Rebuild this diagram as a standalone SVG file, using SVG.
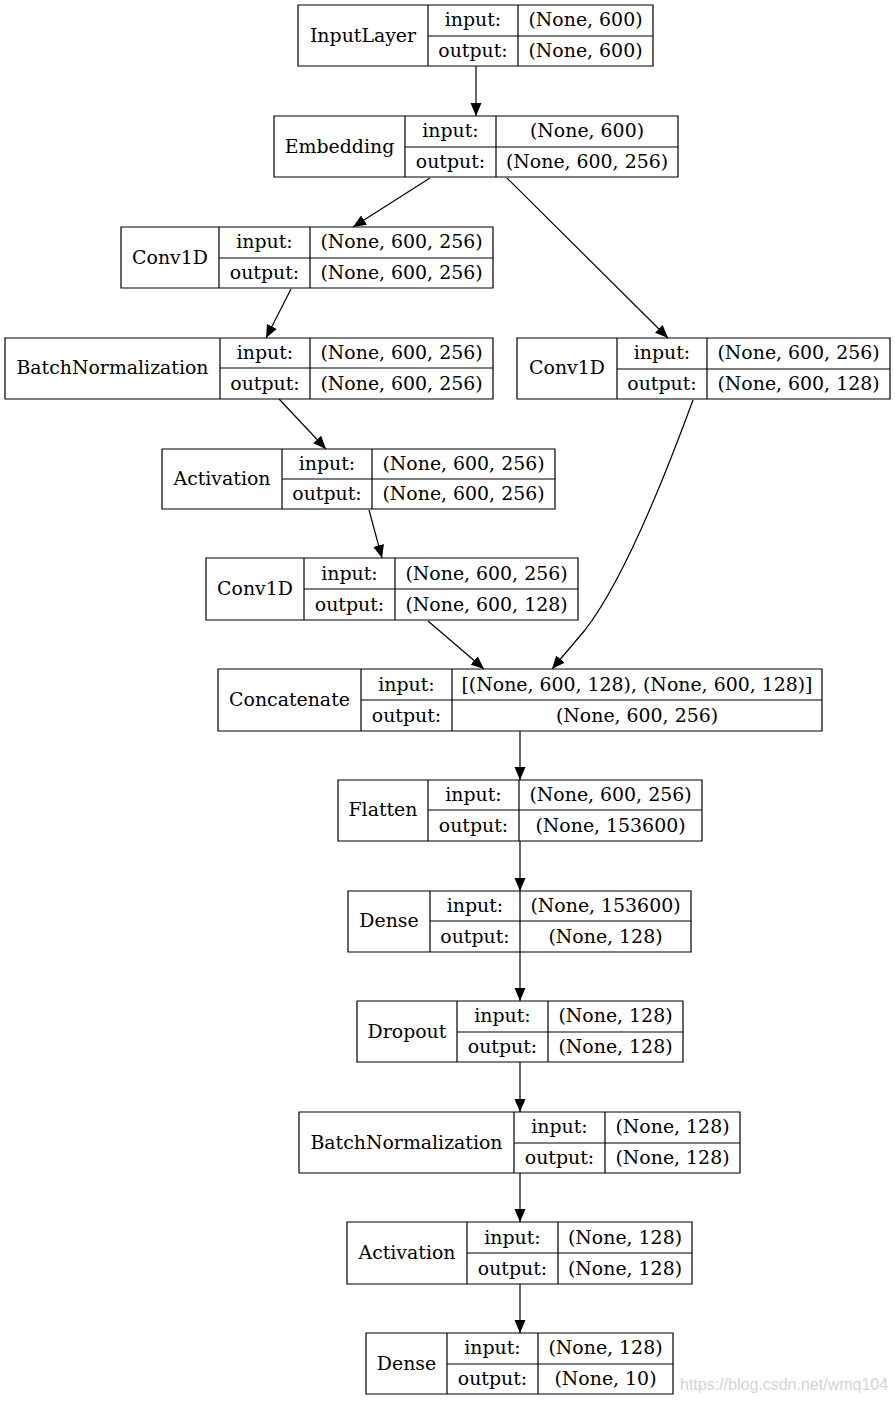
<svg xmlns="http://www.w3.org/2000/svg" width="895" height="1401" viewBox="0 0 895 1401">
<style>
.b{fill:none;stroke:#000;stroke-width:1.2}
.t{font-family:"DejaVu Serif","Liberation Serif",serif;font-size:18.9px;fill:#000;text-anchor:middle}
.e{fill:none;stroke:#000;stroke-width:1.2}
.wm{font-family:"Liberation Sans",Arial,sans-serif;font-size:16px;fill:#d4d4d4}
</style>
<defs>
<marker id="ah" markerUnits="userSpaceOnUse" markerWidth="14" markerHeight="12" viewBox="0 0 14 12" refX="13" refY="6" orient="auto">
<path d="M0,0.5 L13,6 L0,11.5 Z" fill="#000"/>
</marker>
</defs>
<rect width="895" height="1401" fill="#fff"/>
<g id="connectors">
<path class="e" d="M476,66 L476,116" marker-end="url(#ah)"/>
<path class="e" d="M430,178 L353,227" marker-end="url(#ah)"/>
<path class="e" d="M507,178 L668,338" marker-end="url(#ah)"/>
<path class="e" d="M291,289 L266,338" marker-end="url(#ah)"/>
<path class="e" d="M279,399 L326,449" marker-end="url(#ah)"/>
<path class="e" d="M369,510 L382,558" marker-end="url(#ah)"/>
<path class="e" d="M428,621 L484,669" marker-end="url(#ah)"/>
<path class="e" d="M693,400 C660,490 620,585 585,630 L552,669" marker-end="url(#ah)"/>
<path class="e" d="M520,731 L520,780" marker-end="url(#ah)"/>
<path class="e" d="M520,841 L520,891" marker-end="url(#ah)"/>
<path class="e" d="M520,952 L520,1001" marker-end="url(#ah)"/>
<path class="e" d="M520,1062 L520,1112" marker-end="url(#ah)"/>
<path class="e" d="M520,1173 L520,1222" marker-end="url(#ah)"/>
<path class="e" d="M520,1284 L520,1333" marker-end="url(#ah)"/>
</g>
<g id="n1">
<path class="b" d="M298,5 H653 V66 H298 Z M428,5 V66 M518,5 V66 M428,36 H653"/>
<text class="t" x="363" y="42">InputLayer</text>
<text class="t" x="473" y="26">input:</text>
<text class="t" x="473" y="57">output:</text>
<text class="t" x="585.5" y="26">(None, 600)</text>
<text class="t" x="585.5" y="57">(None, 600)</text>
</g>
<g id="n2">
<path class="b" d="M274,116 H678 V177 H274 Z M405,116 V177 M496,116 V177 M405,147 H678"/>
<text class="t" x="339.5" y="153">Embedding</text>
<text class="t" x="450.5" y="137">input:</text>
<text class="t" x="450.5" y="168">output:</text>
<text class="t" x="587" y="137">(None, 600)</text>
<text class="t" x="587" y="168">(None, 600, 256)</text>
</g>
<g id="n3">
<path class="b" d="M121,227 H493 V288 H121 Z M219,227 V288 M310,227 V288 M219,258 H493"/>
<text class="t" x="170" y="264">Conv1D</text>
<text class="t" x="264.5" y="248">input:</text>
<text class="t" x="264.5" y="279">output:</text>
<text class="t" x="401.5" y="248">(None, 600, 256)</text>
<text class="t" x="401.5" y="279">(None, 600, 256)</text>
</g>
<g id="n4">
<path class="b" d="M5,338 H493 V399 H5 Z M220,338 V399 M310,338 V399 M220,368 H493"/>
<text class="t" x="112.5" y="374">BatchNormalization</text>
<text class="t" x="265" y="359">input:</text>
<text class="t" x="265" y="390">output:</text>
<text class="t" x="401.5" y="359">(None, 600, 256)</text>
<text class="t" x="401.5" y="390">(None, 600, 256)</text>
</g>
<g id="n5">
<path class="b" d="M517,338 H890 V399 H517 Z M617,338 V399 M707,338 V399 M617,369 H890"/>
<text class="t" x="567" y="374">Conv1D</text>
<text class="t" x="662" y="359">input:</text>
<text class="t" x="662" y="390">output:</text>
<text class="t" x="798.5" y="359">(None, 600, 256)</text>
<text class="t" x="798.5" y="390">(None, 600, 128)</text>
</g>
<g id="n6">
<path class="b" d="M162,449 H555 V509 H162 Z M282,449 V509 M372,449 V509 M282,479 H555"/>
<text class="t" x="222" y="485">Activation</text>
<text class="t" x="327" y="470">input:</text>
<text class="t" x="327" y="500">output:</text>
<text class="t" x="463.5" y="470">(None, 600, 256)</text>
<text class="t" x="463.5" y="500">(None, 600, 256)</text>
</g>
<g id="n7">
<path class="b" d="M206,558 H578 V620 H206 Z M304,558 V620 M395,558 V620 M304,589 H578"/>
<text class="t" x="255" y="595">Conv1D</text>
<text class="t" x="349.5" y="580">input:</text>
<text class="t" x="349.5" y="611">output:</text>
<text class="t" x="486.5" y="580">(None, 600, 256)</text>
<text class="t" x="486.5" y="611">(None, 600, 128)</text>
</g>
<g id="n8">
<path class="b" d="M218,669 H822 V731 H218 Z M361,669 V731 M452,669 V731 M361,700 H822"/>
<text class="t" x="289.5" y="706">Concatenate</text>
<text class="t" x="406.5" y="691">input:</text>
<text class="t" x="406.5" y="722">output:</text>
<text class="t" x="637" y="691">[(None, 600, 128), (None, 600, 128)]</text>
<text class="t" x="637" y="722">(None, 600, 256)</text>
</g>
<g id="n9">
<path class="b" d="M338,780 H702 V841 H338 Z M428,780 V841 M519,780 V841 M428,810 H702"/>
<text class="t" x="383" y="816">Flatten</text>
<text class="t" x="473.5" y="801">input:</text>
<text class="t" x="473.5" y="832">output:</text>
<text class="t" x="610.5" y="801">(None, 600, 256)</text>
<text class="t" x="610.5" y="832">(None, 153600)</text>
</g>
<g id="n10">
<path class="b" d="M348,891 H691 V952 H348 Z M430,891 V952 M520,891 V952 M430,921 H691"/>
<text class="t" x="389" y="927">Dense</text>
<text class="t" x="475" y="912">input:</text>
<text class="t" x="475" y="943">output:</text>
<text class="t" x="605.5" y="912">(None, 153600)</text>
<text class="t" x="605.5" y="943">(None, 128)</text>
</g>
<g id="n11">
<path class="b" d="M357,1001 H683 V1062 H357 Z M457,1001 V1062 M548,1001 V1062 M457,1032 H683"/>
<text class="t" x="407" y="1038">Dropout</text>
<text class="t" x="502.5" y="1022">input:</text>
<text class="t" x="502.5" y="1053">output:</text>
<text class="t" x="615.5" y="1022">(None, 128)</text>
<text class="t" x="615.5" y="1053">(None, 128)</text>
</g>
<g id="n12">
<path class="b" d="M299,1112 H740 V1173 H299 Z M514,1112 V1173 M605,1112 V1173 M514,1143 H740"/>
<text class="t" x="406.5" y="1149">BatchNormalization</text>
<text class="t" x="559.5" y="1133">input:</text>
<text class="t" x="559.5" y="1164">output:</text>
<text class="t" x="672.5" y="1133">(None, 128)</text>
<text class="t" x="672.5" y="1164">(None, 128)</text>
</g>
<g id="n13">
<path class="b" d="M347,1222 H692 V1284 H347 Z M467,1222 V1284 M558,1222 V1284 M467,1253 H692"/>
<text class="t" x="407" y="1259">Activation</text>
<text class="t" x="512.5" y="1244">input:</text>
<text class="t" x="512.5" y="1275">output:</text>
<text class="t" x="625" y="1244">(None, 128)</text>
<text class="t" x="625" y="1275">(None, 128)</text>
</g>
<g id="n14">
<path class="b" d="M366,1333 H673 V1394 H366 Z M447,1333 V1394 M538,1333 V1394 M447,1364 H673"/>
<text class="t" x="406.5" y="1370">Dense</text>
<text class="t" x="492.5" y="1354">input:</text>
<text class="t" x="492.5" y="1385">output:</text>
<text class="t" x="605.5" y="1354">(None, 128)</text>
<text class="t" x="605.5" y="1385">(None, 10)</text>
</g>
<text class="wm" x="680" y="1390">https://blog.csdn.net/wmq104</text>
</svg>
